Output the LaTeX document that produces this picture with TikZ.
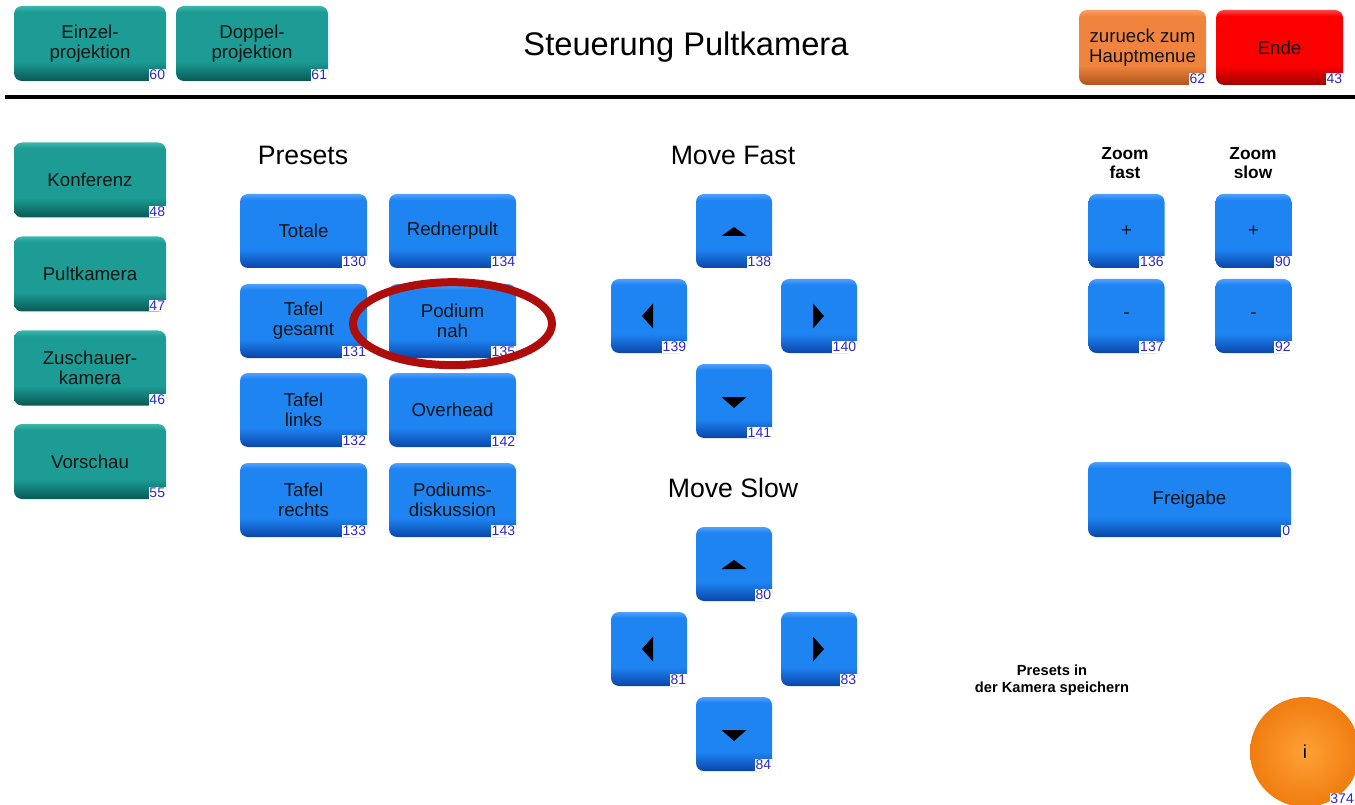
\documentclass[tikz,border=0pt]{standalone}
\usepackage{fontspec}
\setmainfont{Liberation Sans}
\usepackage{xcolor}
\usepackage{tikz}

\definecolor{tealtop}{RGB}{60,182,172}
\definecolor{tealmid}{RGB}{28,156,148}
\definecolor{tealbot}{RGB}{8,88,84}
\definecolor{bluetop}{RGB}{80,160,252}
\definecolor{bluemid}{RGB}{30,132,242}
\definecolor{bluebot}{RGB}{10,70,170}
\definecolor{orgtop}{RGB}{252,160,100}
\definecolor{orgmid}{RGB}{240,132,62}
\definecolor{orgbot}{RGB}{175,85,30}
\definecolor{redtop}{RGB}{255,70,70}
\definecolor{redmid}{RGB}{252,0,0}
\definecolor{redbot}{RGB}{160,0,0}
\definecolor{tagblue}{RGB}{45,40,200}
\definecolor{ringred}{RGB}{175,12,12}
\definecolor{infoin}{RGB}{255,160,55}
\definecolor{infoout}{RGB}{240,125,15}

\pgfdeclareverticalshading{tealshade}{100bp}{color(0bp)=(tealbot); color(25bp)=(tealbot);
  color(38bp)=(tealmid); color(71bp)=(tealmid); color(75bp)=(tealtop); color(100bp)=(tealtop)}
\pgfdeclareverticalshading{blueshade}{100bp}{color(0bp)=(bluebot); color(25bp)=(bluebot);
  color(38bp)=(bluemid); color(71bp)=(bluemid); color(75bp)=(bluetop); color(100bp)=(bluetop)}
\pgfdeclareverticalshading{orgshade}{100bp}{color(0bp)=(orgbot); color(25bp)=(orgbot);
  color(38bp)=(orgmid); color(71bp)=(orgmid); color(75bp)=(orgtop); color(100bp)=(orgtop)}
\pgfdeclareverticalshading{redshade}{100bp}{color(0bp)=(redbot); color(25bp)=(redbot);
  color(38bp)=(redmid); color(71bp)=(redmid); color(75bp)=(redtop); color(100bp)=(redtop)}

\newcommand{\btnfont}{\fontsize{14}{15}\selectfont}
\newcommand{\tagfont}{\fontsize{10.5}{11}\selectfont}
\newcommand{\headfont}{\fontsize{20}{22}\selectfont}
\newcommand{\smallhead}{\fontsize{13}{14.5}\selectfont\bfseries}

\begin{document}
\begin{tikzpicture}[
  x=0.75pt, y=-0.75pt,
  btn/.style={rounded corners=6pt, inner sep=0pt, align=center,
    font=\btnfont, text=black!92},
  tealbtn/.style={btn, shading=tealshade},
  bluebtn/.style={btn, shading=blueshade},
  orgbtn/.style={btn, shading=orgshade},
  redbtn/.style={btn, shading=redshade},
  navsize/.style={minimum width=114pt, minimum height=56.25pt},
  menusize/.style={minimum width=95.25pt, minimum height=56.25pt},
  presetsize/.style={minimum width=95.25pt, minimum height=55.5pt},
  keysize/.style={minimum width=57pt, minimum height=55.5pt},
  tag/.style={fill=white, text=tagblue, font=\tagfont, inner sep=0.7pt, anchor=south east},
  ring/.style={draw=ringred, line width=6pt}
]

\useasboundingbox (0,0) rectangle (1355,805);

\node [tealbtn, navsize] (einzel) at (90,43.5) {Einzel-\\projektion};
\node [tag] at (einzel.south east) {60};
\node [tealbtn, navsize] (doppel) at (252,43.5) {Doppel-\\projektion};
\node [tag] at (doppel.south east) {61};

\node (title) at (686,47) {\fontsize{24.5}{28}\selectfont Steuerung Pultkamera};

\node [orgbtn, menusize] (zurueck) at (1142.5,47.5) {zurueck zum\\Hauptmenue};
\node [tag] at (zurueck.south east) {62};
\node [redbtn, menusize] (ende) at (1279.5,47.5) {Ende};
\node [tag] at (ende.south east) {43};

\draw [line width=3pt] (5,97) -- (1355,97);

\node [tealbtn, navsize] (konferenz) at (90,180) {Konferenz};
\node [tag] at (konferenz.south east) {48};
\node [tealbtn, navsize] (pultkamera) at (90,274) {Pultkamera};
\node [tag] at (pultkamera.south east) {47};
\node [tealbtn, navsize] (zuschauer) at (90,368) {Zuschauer-\\kamera};
\node [tag] at (zuschauer.south east) {46};
\node [tealbtn, navsize] (vorschau) at (90,461.5) {Vorschau};
\node [tag] at (vorschau.south east) {55};

\node [font=\headfont] (presets) at (303,155) {Presets};

\node [bluebtn, presetsize] (totale) at (303.5,231) {Totale};
\node [tag] at (totale.south east) {130};
\node [bluebtn, presetsize] (rednerpult) at (452.5,231) {Rednerpult};
\node [tag] at (rednerpult.south east) {134};
\node [bluebtn, presetsize] (gesamt) at (303.5,321) {Tafel\\gesamt};
\node [tag] at (gesamt.south east) {131};
\node [bluebtn, presetsize] (podium) at (452.5,321) {Podium\\nah};
\node [tag] at (podium.south east) {135};
\node [bluebtn, presetsize] (links) at (303.5,410) {Tafel\\links};
\node [tag] at (links.south east) {132};
\node [bluebtn, presetsize] (overhead) at (452.5,410) {Overhead};
\node [tag] at (overhead.south east) {142};
\node [bluebtn, presetsize] (rechts) at (303.5,500) {Tafel\\rechts};
\node [tag] at (rechts.south east) {133};
\node [bluebtn, presetsize] (diskussion) at (452.5,500) {Podiums-\\diskussion};
\node [tag] at (diskussion.south east) {143};

\draw [ring] ([yshift=-2pt]podium.center) ellipse [x radius=74.6pt, y radius=31.1pt];

\node [font=\headfont] (fast) at (733,155) {Move Fast};

\node [bluebtn, keysize] (fastup) at (734,231) {};
\node [tag] at (fastup.south east) {138};
\node [bluebtn, keysize] (fastleft) at (649,316) {};
\node [tag] at (fastleft.south east) {139};
\node [bluebtn, keysize] (fastright) at (819,316) {};
\node [tag] at (fastright.south east) {140};
\node [bluebtn, keysize] (fastdown) at (734,401) {};
\node [tag] at (fastdown.south east) {141};

\fill [shift={(fastup.center)}] (-12.5,5) -- (12.5,5) -- (0,-4) -- cycle;
\fill [shift={(fastleft.center)}] (4,-12.5) -- (4,12.5) -- (-7,0) -- cycle;
\fill [shift={(fastright.center)}] (-6,-12.5) -- (-6,12.5) -- (5,0) -- cycle;
\fill [shift={(fastdown.center)}] (-12.5,-4) -- (12.5,-4) -- (0,7) -- cycle;

\node [font=\headfont] (slow) at (733,488) {Move Slow};

\node [bluebtn, keysize] (slowup) at (734,564) {};
\node [tag] at (slowup.south east) {80};
\node [bluebtn, keysize] (slowleft) at (649,649) {};
\node [tag] at (slowleft.south east) {81};
\node [bluebtn, keysize] (slowright) at (819,649) {};
\node [tag] at (slowright.south east) {83};
\node [bluebtn, keysize] (slowdown) at (734,734) {};
\node [tag] at (slowdown.south east) {84};

\fill [shift={(slowup.center)}] (-12.5,5) -- (12.5,5) -- (0,-4) -- cycle;
\fill [shift={(slowleft.center)}] (4,-12.5) -- (4,12.5) -- (-7,0) -- cycle;
\fill [shift={(slowright.center)}] (-6,-12.5) -- (-6,12.5) -- (5,0) -- cycle;
\fill [shift={(slowdown.center)}] (-12.5,-4) -- (12.5,-4) -- (0,7) -- cycle;

\node [font=\smallhead, align=center] (zfasthead) at (1125,163) {Zoom\\fast};
\node [font=\smallhead, align=center] (zslowhead) at (1253,163) {Zoom\\slow};

\node [bluebtn, keysize] (zfastin) at (1126.5,231) {+};
\node [tag] at (zfastin.south east) {136};
\node [bluebtn, keysize] (zfastout) at (1126.5,316) {-};
\node [tag] at (zfastout.south east) {137};
\node [bluebtn, keysize] (zslowin) at (1253.5,231) {+};
\node [tag] at (zslowin.south east) {90};
\node [bluebtn, keysize] (zslowout) at (1253.5,316) {-};
\node [tag] at (zslowout.south east) {92};

\node [bluebtn, minimum width=152.25pt, minimum height=56.25pt] (freigabe) at (1189.5,499.5) {Freigabe};
\node [tag] at (freigabe.south east) {0};

\node [font=\fontsize{11}{12.5}\selectfont\bfseries, align=center] (speichern) at (1052,680)
  {Presets in\\der Kamera speichern};

\node [circle, minimum size=82.5pt, inner sep=0pt, inner color=infoin, outer color=infoout,
  font=\btnfont] (info) at (1305,752) {i};
\node [tag] at (1355,805) {374};

\end{tikzpicture}
\end{document}
